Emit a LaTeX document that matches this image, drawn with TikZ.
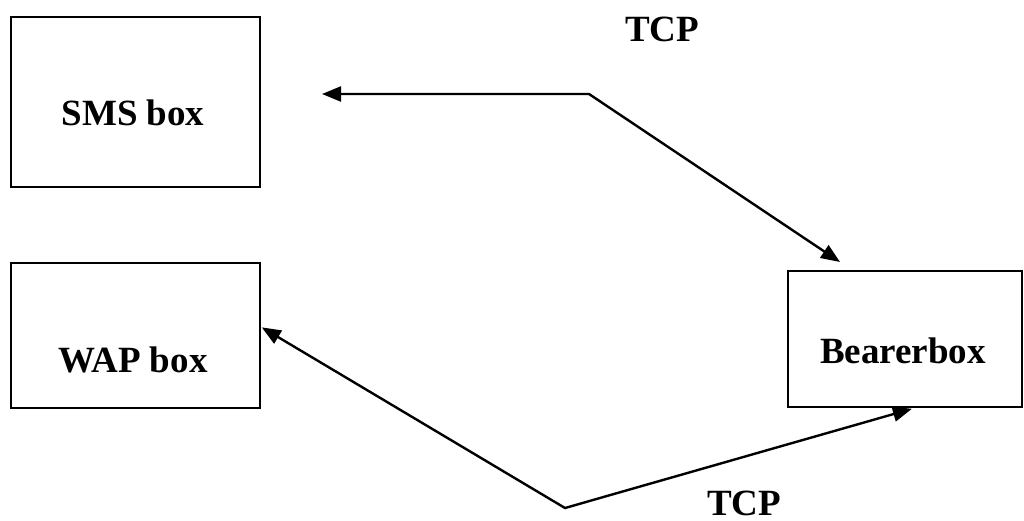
\documentclass[tikz,border=0pt]{standalone}
\usepackage{fontspec}
\setmainfont{Liberation Serif}
\usetikzlibrary{arrows.meta,calc}
\tikzset{tcptip/.tip={Triangle[length=19pt,width=15pt]}}
\begin{document}
\begin{tikzpicture}[x=1pt,y=-1pt,
  box/.style={draw,line width=1.8pt,rectangle,inner sep=0pt,anchor=north west},
  lbl/.style={font=\fontsize{37}{40}\selectfont\bfseries,inner sep=0pt,anchor=base},
  link/.style={line width=2.4pt,tcptip-tcptip}]
\useasboundingbox (0,0) rectangle (1024,521);

% the three boxes
\node[box,minimum width=249pt,minimum height=170pt] (sms)  at (10,16) {};
\node[box,minimum width=249pt,minimum height=145pt] (wap)  at (10,262) {};
\node[box,minimum width=234pt,minimum height=136pt] (bear) at (787,270) {};

% box captions
\node[lbl] (smstext)  at (133,126) {SMS box};
\node[lbl] (waptext)  at (133,372) {WAP box};
\node[lbl] (beartext) at (903,363) {Bearerbox};

% protocol labels
\node[lbl] (tcpup)   at (662,42)  {TCP};
\node[lbl] (tcpdown) at (744,515) {TCP};

% bend points and free arrow ends
\coordinate (smsend)  at (322,94);
\coordinate (bendup)  at (589,94);
\coordinate (bearin)  at ($(bear.north west)+(53,-8)$);
\coordinate (wapin)   at ($(wap.east)+(1,-8)$);
\coordinate (benddn)  at (565,508);
\coordinate (bearout) at ($(bear.south)+(7,1)$);

% TCP links
\draw[link] (smsend) -- (bendup) -- (bearin);
\draw[link] (wapin) -- (benddn) -- (bearout);
\end{tikzpicture}
\end{document}
